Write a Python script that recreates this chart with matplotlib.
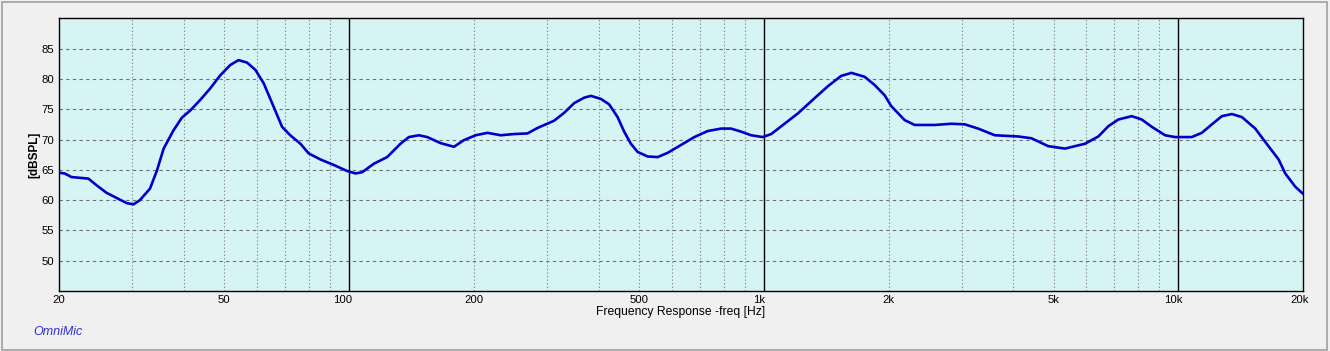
import matplotlib
matplotlib.use("Agg")
import matplotlib.pyplot as plt
import matplotlib.transforms as mtransforms
from matplotlib.patches import Rectangle

# ---- data ----
freq_hz = [20, 20.6, 21.4, 23.5, 24.6, 26.0, 27.5, 29.1, 30.2, 31.3, 33.1, 34.4,
           35.7, 37.7, 39.5, 41.4, 43.7, 46.2, 48.9, 51.7, 54.1, 56.7, 59.4, 62.2,
           65.2, 68.9, 72.1, 76.3, 79.9, 85.3, 91.8, 98.9, 103.6, 107.5, 114.7,
           123.5, 133.0, 139.3, 147.3, 154.3, 166.2, 179.0, 189.2, 201.9, 215.5,
           232.0, 249.9, 269.2, 284.5, 312.1, 330.0, 348.8, 368.8, 382.8, 404.6,
           423.7, 444.0, 460.5, 478.0, 496.2, 524.5, 554.7, 586.3, 631.5, 680.0,
           732.6, 788.9, 833.7, 881.4, 931.9, 994.7, 1042, 1122, 1208, 1325, 1428,
           1537, 1610, 1625, 1750, 1850, 1956, 2030, 2186, 2311, 2584, 2834, 3053,
           3288, 3606, 4108, 4422, 4853, 5324, 5950, 6409, 6776, 7162, 7714, 8155,
           8619, 9283, 9813, 10768, 11383, 12036, 12725, 13454, 14222, 15317,
           16190, 17441, 18092, 19131, 20000]
spl_db = [64.5, 64.4, 63.8, 63.55, 62.45, 61.2, 60.35, 59.5, 59.3, 60.0, 61.9, 64.9,
          68.5, 71.5, 73.6, 74.8, 76.5, 78.4, 80.6, 82.3, 83.1, 82.7, 81.5, 79.3,
          76.0, 72.1, 70.7, 69.3, 67.7, 66.7, 65.8, 64.8, 64.4, 64.6, 66.0,
          67.1, 69.3, 70.4, 70.7, 70.4, 69.4, 68.8, 69.9, 70.7, 71.1,
          70.7, 70.9, 71.0, 71.9, 73.1, 74.4, 76.0, 76.9, 77.2, 76.7,
          75.8, 73.7, 71.3, 69.3, 67.95, 67.2, 67.1, 67.8, 69.1, 70.4,
          71.4, 71.8, 71.8, 71.3, 70.7, 70.4, 70.9, 72.6, 74.3, 76.8, 78.8,
          80.5, 80.9, 81.0, 80.35, 79.0, 77.3, 75.5, 73.2, 72.4, 72.4, 72.6, 72.5,
          71.8, 70.7, 70.5, 70.2, 68.9, 68.5, 69.3, 70.5, 72.2, 73.3, 73.85, 73.3,
          72.1, 70.7, 70.4, 70.4, 71.1, 72.5, 73.85, 74.2, 73.7, 71.8,
          69.6, 66.7, 64.4, 62.2, 61.0]

xtick_vals = [20, 50, 100, 200, 500, 1000, 2000, 5000, 10000, 20000]
xtick_labels = ["20", "50", "100", "200", "500", "1k", "2k", "5k", "10k", "20k"]
ytick_vals = [50, 55, 60, 65, 70, 75, 80, 85]
minor_grid = [30, 40, 50, 60, 70, 80, 90, 200, 300, 400, 500, 600, 700, 800, 900,
              2000, 3000, 4000, 5000, 6000, 7000, 8000, 9000]
major_grid = [100, 1000, 10000]

plt.rcParams['font.family'] = ['Liberation Sans', 'DejaVu Sans']

fig = plt.figure(figsize=(13.3, 3.51), dpi=100, facecolor='#f0f0f0')
# outer frame
fig.patches.append(Rectangle((1.5 / 1330, 1.5 / 351), 1325 / 1330, 347.5 / 351,
                             transform=fig.transFigure, fill=False,
                             edgecolor='#a0a0a0', linewidth=1.2))

ax = fig.add_axes([59.3 / 1330, 60 / 351, 1244 / 1330, 272.7 / 351])
ax.set_facecolor('#d6f4f4')
ax.set_xscale('log')
ax.set_xlim(20, 20000)
ax.set_ylim(45, 90)

for y in ytick_vals:
    ax.axhline(y, color='#707070', linewidth=0.8, linestyle=(0, (3, 3)), zorder=1)
for x in minor_grid:
    ax.axvline(x, color='#8a8a8a', linewidth=0.8, linestyle=(0, (1.2, 2)), zorder=1)
for x in major_grid:
    ax.axvline(x, color='black', linewidth=1.0, zorder=1)

ax.plot(freq_hz, spl_db, color='#0000c8', linewidth=1.9, zorder=3,
        solid_joinstyle='round', solid_capstyle='round')

ax.set_xticks(xtick_vals)
ax.set_xticklabels(xtick_labels)
ax.xaxis.set_minor_locator(matplotlib.ticker.NullLocator())
ax.set_yticks(ytick_vals)
ax.set_yticklabels([str(v) for v in ytick_vals])
ax.tick_params(axis='both', length=0, labelsize=8.2, colors='black')
ax.tick_params(axis='x', pad=3)
ax.tick_params(axis='y', pad=3.5)

label_shift = {"20": -1, "100": -6, "1k": -5, "10k": -5, "20k": -4}
for lbl in ax.get_xticklabels():
    dx = label_shift.get(lbl.get_text(), 0)
    if dx:
        lbl.set_transform(lbl.get_transform() +
                          mtransforms.ScaledTranslation(dx / 100, 0, fig.dpi_scale_trans))

for s in ax.spines.values():
    s.set_color('black')
    s.set_linewidth(1.0)

fig.text(681 / 1330, 1 - 312 / 351, "Frequency Response -freq [Hz]",
         ha='center', va='center', fontsize=8.7)
fig.text(34 / 1330, 1 - 155 / 351, "[dBSPL]", rotation=90, ha='center',
         va='center', fontsize=8.5, fontweight='bold')
fig.text(33 / 1330, 1 - 332 / 351, "OmniMic", ha='left', va='center',
         fontsize=9, style='italic', color='#3030d0')

fig.savefig('out.png', dpi=100, facecolor=fig.get_facecolor())
